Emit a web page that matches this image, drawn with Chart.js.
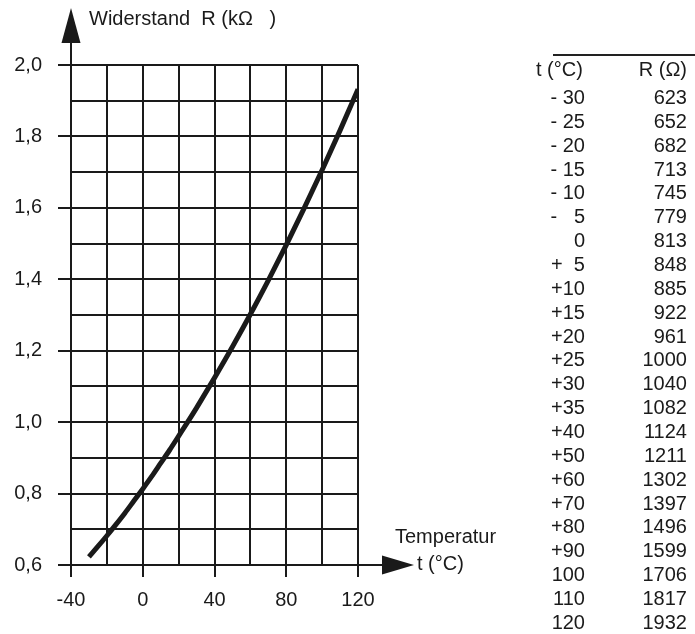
<!DOCTYPE html>
<html>
<head>
<meta charset="utf-8">
<script src="https://cdn.jsdelivr.net/npm/chart.js@4.4.1/dist/chart.umd.min.js"></script>
<style>
  html, body { margin: 0; padding: 0; background: #fff; }
  #wrap { position: relative; width: 695px; height: 634px; overflow: hidden; }
  #chartBox { position: absolute; left: 0; top: 0; width: 695px; height: 634px; }
  .tx { position: absolute; font-family: "Liberation Sans", Arial, sans-serif; font-size: 20px; color: #1a1a1a; white-space: pre; line-height: 24px; }
  .rt { text-align: right; }
  #hdrLine { position: absolute; left: 553px; top: 54px; width: 142px; height: 0; border-top: 2px solid #222; }
</style>
</head>
<body>
<div id="wrap">
  <div id="chartBox"><canvas id="c"></canvas></div>
  <div id="hdrLine"></div>
  <div id="table"></div>
</div>
<script>
// ---- data ----
const tempC = [-30, -25, -20, -15, -10, -5, 0, 5, 10, 15, 20, 25, 30, 35, 40, 50, 60, 70, 80, 90, 100, 110, 120];
const resistanceOhm = [623, 652, 682, 713, 745, 779, 813, 848, 885, 922, 961, 1000, 1040, 1082, 1124, 1211, 1302, 1397, 1496, 1599, 1706, 1817, 1932];
const tableTempLabels = ['- 30', '- 25', '- 20', '- 15', '- 10', '-   5', '0', '+  5', '+10', '+15', '+20', '+25', '+30', '+35', '+40', '+50', '+60', '+70', '+80', '+90', '100', '110', '120'];
const xTickLabels = [-40, 0, 40, 80, 120];
const yTickLabels = [0.6, 0.8, 1.0, 1.2, 1.4, 1.6, 1.8, 2.0];
const yTitle = 'Widerstand  R (k\u03A9   )';
const xTitle1 = 'Temperatur';
const xTitle2 = 't (\u00B0C)';
const tableHeadT = 't (\u00B0C)';
const tableHeadR = 'R (\u03A9)';

const INK = '#1a1a1a';
const FONT = '"Liberation Sans", Arial, sans-serif';

// ---- table (real HTML text) ----
const table = document.getElementById('table');
function addText(txt, left, top, width, right) {
  const d = document.createElement('div');
  d.className = 'tx' + (right ? ' rt' : '');
  d.textContent = txt;
  d.style.left = left + 'px';
  d.style.top = top + 'px';
  if (width) d.style.width = width + 'px';
  table.appendChild(d);
}
addText(tableHeadT, 536, 57);
addText(tableHeadR, 607, 57, 80, true);
const rowStep = 23.86;
tableTempLabels.forEach((lab, i) => {
  const top = 85 + i * rowStep;
  addText(lab, 515, top, 70, true);
  addText(String(resistanceOhm[i]), 607, top, 80, true);
});

// ---- axes arrows / titles plugin ----
const axisDeco = {
  id: 'axisDeco',
  afterDraw(chart) {
    const { ctx, chartArea: a } = chart;
    ctx.save();
    ctx.strokeStyle = INK;
    ctx.fillStyle = INK;
    ctx.lineWidth = 2;
    // y axis extension
    ctx.beginPath();
    ctx.moveTo(a.left, a.bottom);
    ctx.lineTo(a.left, 40);
    ctx.stroke();
    // y arrow
    ctx.beginPath();
    ctx.moveTo(a.left, 8);
    ctx.lineTo(a.left - 9.5, 43);
    ctx.lineTo(a.left + 9.5, 43);
    ctx.closePath();
    ctx.fill();
    // x axis extension
    ctx.beginPath();
    ctx.moveTo(a.left, a.bottom);
    ctx.lineTo(384, a.bottom);
    ctx.stroke();
    // x arrow
    ctx.beginPath();
    ctx.moveTo(414, a.bottom);
    ctx.lineTo(382, a.bottom - 9.5);
    ctx.lineTo(382, a.bottom + 9.5);
    ctx.closePath();
    ctx.fill();
    // titles
    ctx.font = '20px ' + FONT;
    ctx.textBaseline = 'middle';
    ctx.textAlign = 'left';
    ctx.fillText(yTitle, 89, 19);
    ctx.fillText(xTitle1, 395, 537);
    ctx.fillText(xTitle2, 417, 564);
    ctx.restore();
  }
};

const isLabeledX = v => xTickLabels.some(t => Math.abs(t - v) < 1e-6);
const isLabeledY = v => yTickLabels.some(t => Math.abs(t - v) < 1e-6);

new Chart(document.getElementById('c'), {
  type: 'scatter',
  data: {
    datasets: [{
      data: tempC.map((t, i) => ({ x: t, y: resistanceOhm[i] / 1000 })),
      showLine: true,
      borderColor: INK,
      borderWidth: 5,
      pointRadius: 0,
      tension: 0.4,
      cubicInterpolationMode: 'monotone',
      fill: false
    }]
  },
  options: {
    responsive: true,
    maintainAspectRatio: false,
    animation: false,
    events: [],
    layout: { padding: { left: 0, top: 65, right: 337, bottom: 0 } },
    plugins: { legend: { display: false }, tooltip: { enabled: false } },
    scales: {
      x: {
        type: 'linear',
        min: -40, max: 120,
        afterFit(s) { s.height = 69; },
        border: { display: false },
        grid: {
          color: INK,
          lineWidth: 2,
          tickLength: 12,
          tickColor: c => isLabeledX(c.tick.value) ? INK : 'rgba(0,0,0,0)',
          tickWidth: 2
        },
        ticks: {
          stepSize: 20,
          autoSkip: false,
          maxRotation: 0,
          padding: 11,
          color: INK,
          font: { family: FONT, size: 20 },
          callback: v => isLabeledX(v) ? String(v) : ''
        }
      },
      y: {
        type: 'linear',
        min: 0.6, max: 2.0,
        afterFit(s) { s.width = 71; },
        border: { display: false },
        grid: {
          color: INK,
          lineWidth: 2,
          tickLength: 13,
          tickColor: c => isLabeledY(c.tick.value) ? INK : 'rgba(0,0,0,0)',
          tickWidth: 2
        },
        ticks: {
          stepSize: 0.1,
          autoSkip: false,
          padding: 16,
          color: INK,
          font: { family: FONT, size: 20 },
          callback: v => isLabeledY(v) ? v.toFixed(1).replace('.', ',') : ''
        }
      }
    }
  },
  plugins: [axisDeco]
});
</script>
</body>
</html>
